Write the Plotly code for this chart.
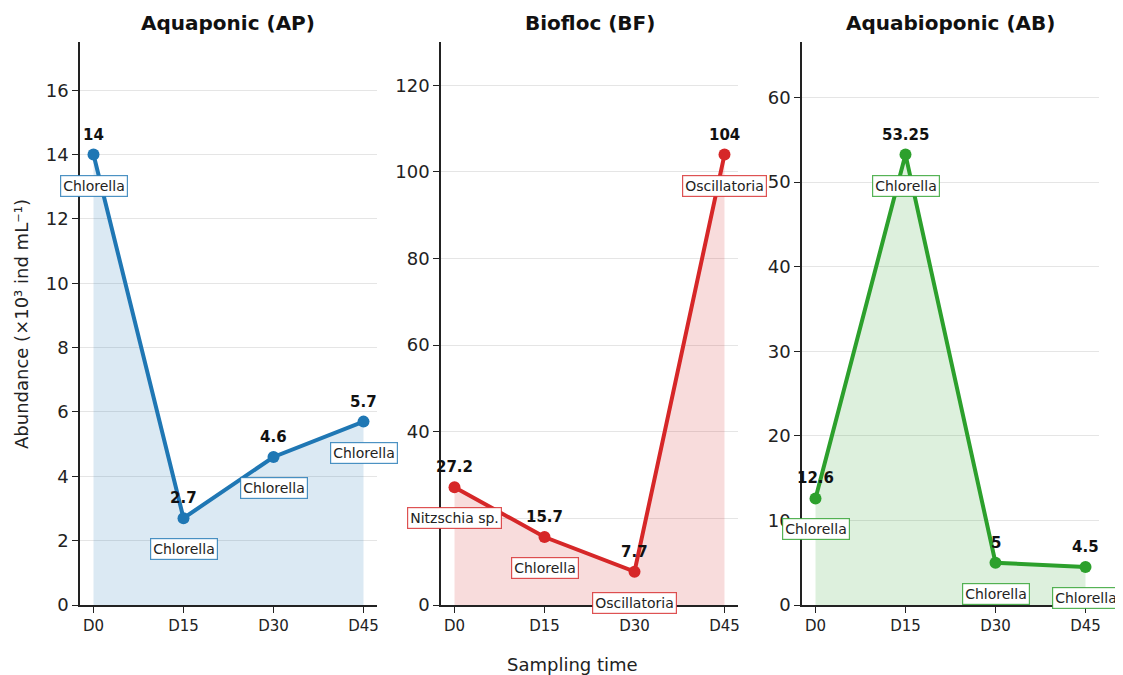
import plotly.graph_objects as go

days = ["D0", "D15", "D30", "D45"]
titles = ["Aquaponic (AP)", "Biofloc (BF)", "Aquabioponic (AB)"]
ap_vals = [14, 2.7, 4.6, 5.7]
bf_vals = [27.2, 15.7, 7.7, 104]
ab_vals = [12.6, 53.25, 5, 4.5]
ap_species = ["Chlorella", "Chlorella", "Chlorella", "Chlorella"]
bf_species = ["Nitzschia sp.", "Chlorella", "Oscillatoria", "Oscillatoria"]
ab_species = ["Chlorella", "Chlorella", "Chlorella", "Chlorella"]
ap_ticks = [0, 2, 4, 6, 8, 10, 12, 14, 16]
bf_ticks = [0, 20, 40, 60, 80, 100, 120]
ab_ticks = [0, 10, 20, 30, 40, 50, 60]

series = [ap_vals, bf_vals, ab_vals]
species = [ap_species, bf_species, ab_species]
ticks = [ap_ticks, bf_ticks, ab_ticks]
colors = ["#1f77b4", "#d62728", "#2ca02c"]
borders = ["rgba(31,119,180,0.8)", "rgba(214,39,40,0.8)", "rgba(44,160,44,0.8)"]
fills = ["rgba(31,119,180,0.16)", "rgba(214,39,40,0.16)", "rgba(44,160,44,0.16)"]

W, H = 1123, 675
OFF = 8  # page body margin in the browser


def px_x(p):
    return (p - OFF) / W


def px_y(p):
    return 1 - (p - OFF) / H


xdoms = [(px_x(80), px_x(377)), (px_x(441), px_x(738)), (px_x(802), px_x(1099))]
ydom = (px_y(605), px_y(42))
FONT = "DejaVu Sans"

fig = go.Figure()
annotations = []
xs = list(range(len(days)))


def fmt(v):
    return "%g" % v


for i in range(3):
    ax = "" if i == 0 else str(i + 1)
    vals = series[i]
    fig.add_trace(go.Scatter(
        x=xs, y=vals, mode="lines+markers",
        line=dict(color=colors[i], width=4),
        marker=dict(color=colors[i], size=12),
        fill="tozeroy", fillcolor=fills[i],
        xaxis="x" + ax, yaxis="y" + ax, showlegend=False, hoverinfo="skip",
        cliponaxis=False,
    ))
    ymax = max(vals) * 1.25
    fig.update_layout(**{
        "xaxis" + ax: dict(
            domain=list(xdoms[i]), anchor="y" + ax, range=[-0.15, 3.15],
            tickvals=xs, ticktext=days, showgrid=False, zeroline=False,
            showline=True, linecolor="#222", linewidth=1.5, automargin=False,
            ticks="outside", ticklen=6, tickwidth=1.3, tickcolor="#222",
            tickfont=dict(family=FONT, size=15, color="#222"),
        ),
        "yaxis" + ax: dict(
            domain=list(ydom), anchor="x" + ax, range=[0, ymax],
            tickvals=ticks[i], showgrid=True, gridcolor="rgba(0,0,0,0.1)", gridwidth=1,
            zeroline=False, showline=True, linecolor="#222", linewidth=1.5, automargin=False,
            ticks="outside", ticklen=6, tickwidth=1.3, tickcolor="#222",
            tickfont=dict(family=FONT, size=18, color="#222"),
        ),
    })
    annotations.append(dict(
        text="<b>%s</b>" % titles[i], xref="paper", yref="paper",
        x=(xdoms[i][0] + xdoms[i][1]) / 2, y=px_y(23),
        showarrow=False, font=dict(family=FONT, size=20, color="#111"),
        xanchor="center", yanchor="middle",
    ))
    for j, v in enumerate(vals):
        annotations.append(dict(
            text="<b>%s</b>" % fmt(v), x=xs[j], y=v, xref="x" + ax, yref="y" + ax,
            showarrow=False, yshift=20, font=dict(family=FONT, size=15, color="#111"),
        ))
        annotations.append(dict(
            text=species[i][j], x=xs[j], y=v, xref="x" + ax, yref="y" + ax,
            showarrow=False, yshift=-31, font=dict(family=FONT, size=14, color="#222"),
            bgcolor="white", bordercolor=borders[i], borderwidth=1.2, borderpad=2,
        ))

annotations.append(dict(
    text="Sampling time", xref="paper", yref="paper", x=px_x(572), y=px_y(664),
    showarrow=False, font=dict(family=FONT, size=18, color="#222"),
    xanchor="center", yanchor="middle",
))
annotations.append(dict(
    text="Abundance (×10³ ind mL⁻¹)", xref="paper", yref="paper", x=px_x(21), y=px_y(324),
    showarrow=False, textangle=-90, font=dict(family=FONT, size=18, color="#222"),
    xanchor="center", yanchor="middle",
))

fig.update_layout(
    width=W, height=H, margin=dict(l=0, r=0, t=0, b=0),
    paper_bgcolor="white", plot_bgcolor="white",
    annotations=annotations, font=dict(family=FONT),
)
fig.write_html("out.html")
